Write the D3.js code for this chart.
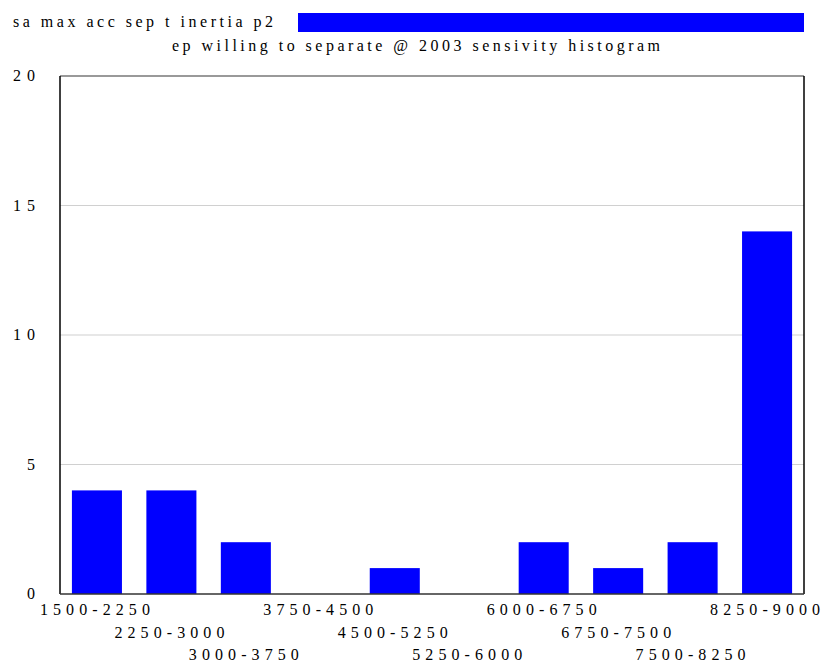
<!DOCTYPE html>
<html><head><meta charset="utf-8">
<script src="https://cdn.jsdelivr.net/npm/d3@7"></script>
<style>body{margin:0;background:#fff}svg{display:block}svg text{font-family:"Liberation Serif","Times New Roman",Times,serif}</style>
</head><body>
<script>
const categories = ["1500-2250","2250-3000","3000-3750","3750-4500","4500-5250","5250-6000","6000-6750","6750-7500","7500-8250","8250-9000"];
const values = [4,4,2,0,1,0,2,1,2,14];
const yTicks = [0,5,10,15,20];
const titleText = "sa max acc sep t inertia p2";
const subtitleText = "ep willing to separate @ 2003 sensivity histogram";

const W = 822, H = 664;
const L = 60, R = 804, T = 76, B = 594;
const svg = d3.select("body").append("svg").attr("width", W).attr("height", H);

const x = d3.scaleBand().domain(categories).range([L, R]).paddingInner(0.328).paddingOuter(0.16);
const y = d3.scaleLinear().domain([0, 20]).range([B, T]);

svg.append("g").selectAll("line").data(yTicks.filter(t => t > 0 && t < 20)).join("line")
  .attr("x1", L).attr("x2", R).attr("y1", d => y(d)).attr("y2", d => y(d))
  .attr("stroke", "#d0d0d0").attr("stroke-width", 1.2);
svg.append("line").attr("x1", L).attr("x2", R).attr("y1", y(20)).attr("y2", y(20)).attr("stroke", "#777").attr("stroke-width", 1.5);

svg.append("g").selectAll("rect").data(values).join("rect")
  .attr("x", (d, i) => x(categories[i])).attr("width", x.bandwidth())
  .attr("y", d => y(d)).attr("height", d => y(0) - y(d)).attr("fill", "#0000ff");

svg.append("line").attr("x1", L).attr("x2", L).attr("y1", T).attr("y2", B).attr("stroke", "#000").attr("stroke-width", 1.5);
svg.append("line").attr("x1", R).attr("x2", R).attr("y1", T).attr("y2", B).attr("stroke", "#000").attr("stroke-width", 1.5);
svg.append("line").attr("x1", L).attr("x2", R).attr("y1", B).attr("y2", B).attr("stroke", "#333").attr("stroke-width", 1.5);

svg.append("g").selectAll("text").data(yTicks).join("text")
  .attr("x", 35).attr("y", d => y(d) + 5).attr("text-anchor", "end")
  .attr("font-size", 16).attr("fill", "#000")
  .each(function(d){ const s = String(d); if (s.length > 1) d3.select(this).attr("textLength", 22).attr("lengthAdjust", "spacing"); })
  .text(d => d);

svg.append("g").selectAll("text").data(categories).join("text")
  .attr("x", d => x(d) + x.bandwidth() / 2 - 55 - 2)
  .attr("y", (d, i) => 615 + (i % 3) * 22.5)
  .attr("font-size", 16).attr("fill", "#000")
  .attr("textLength", 110).attr("lengthAdjust", "spacing")
  .text(d => d);

svg.append("text").attr("x", 13).attr("y", 27).attr("font-size", 16).attr("fill", "#000")
  .attr("textLength", 260).attr("lengthAdjust", "spacing").text(titleText);
svg.append("rect").attr("x", 298).attr("y", 13).attr("width", 506).attr("height", 19).attr("fill", "#0000ff");
svg.append("text").attr("x", 172).attr("y", 51).attr("font-size", 16).attr("fill", "#000")
  .attr("textLength", 488).attr("lengthAdjust", "spacing").text(subtitleText);
</script>
</body></html>
